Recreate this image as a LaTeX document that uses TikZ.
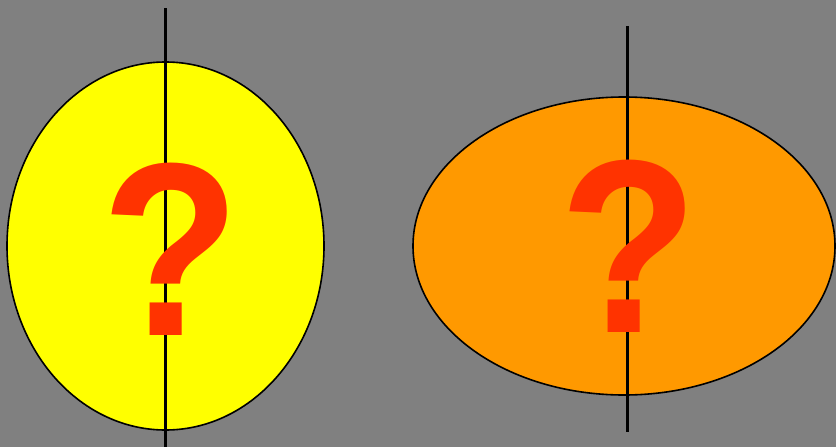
\documentclass[tikz,border=0pt]{standalone}
\usepackage{fontspec}
\setmainfont{Liberation Sans}
\usetikzlibrary{shapes.geometric}
\definecolor{bggray}{HTML}{808080}
\definecolor{eyellow}{HTML}{FFFF00}
\definecolor{eorange}{HTML}{FF9900}
\definecolor{qred}{HTML}{FF3300}
\begin{document}
\begin{tikzpicture}[x=1pt,y=-1pt,
  egg/.style={ellipse,draw=black,line width=1.6pt,inner sep=0pt},
  axisline/.style={draw=black,line width=3pt},
  qmark/.style={text=qred,font=\bfseries\fontsize{247}{247}\selectfont,inner sep=0pt,anchor=base,xscale=0.92}]
\fill[bggray] (0,0) rectangle (836,447);
\useasboundingbox (0,0) rectangle (836,447);
\node[egg,fill=eyellow,minimum width=317pt,minimum height=368pt] (leftegg) at (165.5,246) {};
\node[egg,fill=eorange,minimum width=422pt,minimum height=298pt] (rightegg) at (624,246) {};
\coordinate (ltop) at (165.5,8);
\coordinate (lbot) at (165.5,447);
\coordinate (rtop) at (627.5,26);
\coordinate (rbot) at (627.5,432);
\draw[axisline] (ltop) -- (lbot);
\draw[axisline] (rtop) -- (rbot);
\node[qmark] (lq) at (171,335) {?};
\node[qmark] (rq) at (629,332) {?};
\end{tikzpicture}
\end{document}
